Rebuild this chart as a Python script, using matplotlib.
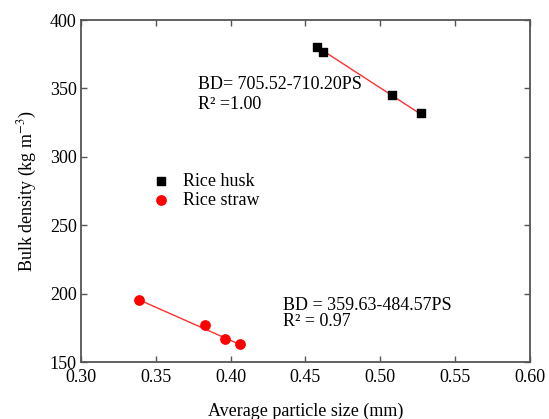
import matplotlib
matplotlib.use("Agg")
import matplotlib.pyplot as plt
import numpy as np

plt.rcParams['font.family'] = ['Liberation Serif', 'DejaVu Serif']
plt.rcParams['mathtext.fontset'] = 'stix'

# rice husk
husk_x = [0.458, 0.462, 0.508, 0.527]
husk_y = [380, 377, 345, 332]
husk_fit = (705.52, -710.20)

# rice straw
straw_x = [0.339, 0.383, 0.396, 0.406]
straw_y = [195, 177, 167, 163]
straw_fit = (359.63, -484.57)

xticks = [0.30, 0.35, 0.40, 0.45, 0.50, 0.55, 0.60]
yticks = [150, 200, 250, 300, 350, 400]

fs = 13

fig = plt.figure(figsize=(5.49, 4.19), dpi=100)
ax = fig.add_axes([0.1475, 0.136, 0.8179, 0.816])

# fitted lines
for xs, (a, b) in [(husk_x, husk_fit), (straw_x, straw_fit)]:
    xl = np.array([min(xs), max(xs)])
    ax.plot(xl, a + b * xl, color='#ff3030', lw=1, zorder=2)

ax.scatter(husk_x, husk_y, marker='s', s=36, color='black', zorder=3, label='Rice husk')
ax.scatter(straw_x, straw_y, marker='o', s=45, color='#ff0000', zorder=3, label='Rice straw')

ax.set_xlim(0.30, 0.60)
ax.set_ylim(150, 400)
ax.set_xticks(xticks)
ax.set_xticklabels(['%.2f' % t for t in xticks])
ax.set_yticks(yticks)

for s in ax.spines.values():
    s.set_color('#555555')
    s.set_linewidth(1.3)
ax.tick_params(direction='in', length=4, width=1, color='#555555', labelsize=fs, pad=3)
ax.tick_params(axis='x', pad=5)
ax.tick_params(top=True, right=True, labeltop=False, labelright=False)

ax.set_xlabel('Average particle size (mm)', fontsize=fs, labelpad=12)
ax.set_ylabel('Bulk density (kg m$^{-3}$)', fontsize=fs, labelpad=8)

ax.text(0.378, 353, 'BD= 705.52-710.20PS', fontsize=fs, va='center')
ax.text(0.378, 338, 'R² =1.00', fontsize=fs, va='center')
ax.text(0.435, 191, 'BD = 359.63-484.57PS', fontsize=fs, va='center')
ax.text(0.435, 179.5, 'R² = 0.97', fontsize=fs, va='center')

ax.legend(loc='upper left', bbox_to_anchor=(0.158, 0.553), frameon=False,
          fontsize=fs, handlelength=1.0, handletextpad=0.7, labelspacing=0.1,
          borderpad=0, borderaxespad=0)

fig.savefig('out.png', dpi=100)
